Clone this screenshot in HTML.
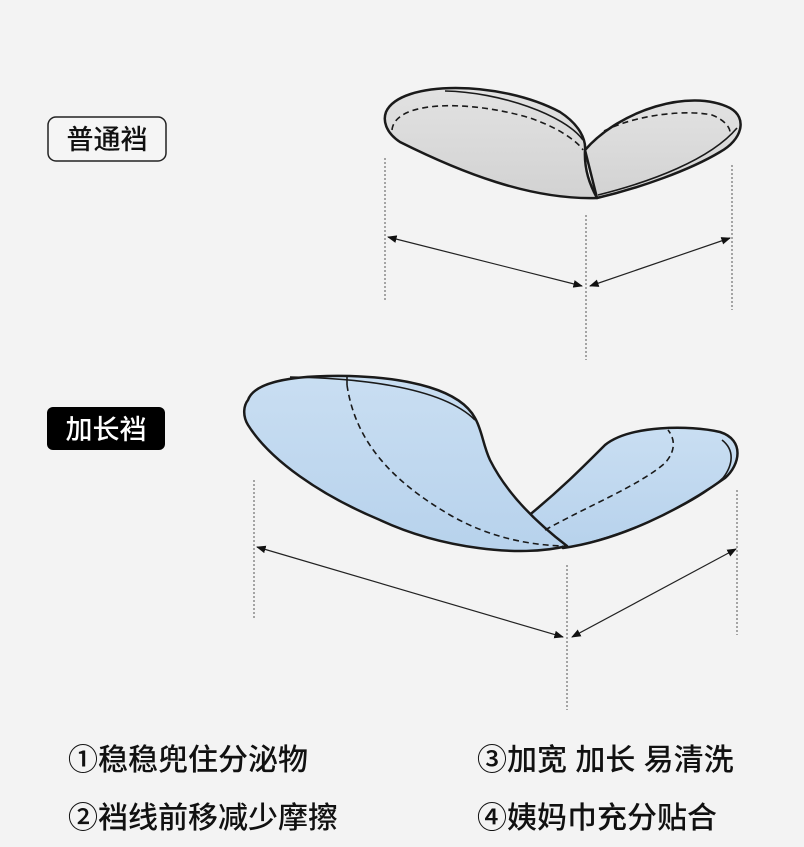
<!DOCTYPE html>
<html><head><meta charset="utf-8"><style>
html,body{margin:0;padding:0;background:#f3f3f3;}
svg{display:block}
text{font-family:"Liberation Sans","Noto Sans CJK SC",sans-serif;}
</style></head><body>
<svg width="804" height="847" viewBox="0 0 804 847" xmlns="http://www.w3.org/2000/svg">
<defs>
<marker id="a" viewBox="0 0 10 10" refX="9" refY="5" markerWidth="8" markerHeight="8" orient="auto-start-reverse"><path d="M0,1 L10,5 L0,9 z" fill="#111"/></marker>
<linearGradient id="g1" x1="0" y1="0" x2="0" y2="1"><stop offset="0" stop-color="#e2e2e2"/><stop offset="1" stop-color="#d2d2d2"/></linearGradient>
<linearGradient id="g2" x1="0" y1="0" x2="0" y2="1"><stop offset="0" stop-color="#c9def2"/><stop offset="1" stop-color="#b7d2ec"/></linearGradient>
</defs>
<rect width="804" height="847" fill="#f3f3f3"/>

<!-- labels -->
<rect x="48" y="117" width="118" height="44" rx="8" fill="#f5f5f5" stroke="#222" stroke-width="1.5"/>
<text x="107" y="149" font-size="27" font-weight="500" text-anchor="middle" fill="#111">普通裆</text>
<rect x="47" y="407" width="118" height="43" rx="6" fill="#000"/>
<text x="106" y="439" font-size="27" font-weight="500" text-anchor="middle" fill="#fff">加长裆</text>

<!-- top shape -->
<g stroke="#1a1a1a" fill="url(#g1)" stroke-linejoin="round">
<path d="M585,150 C620,110 690,88 730,108 C748,118 742,140 720,152 C690,170 640,188 597,198 Z" stroke-width="2.5"/>
<path d="M386,112 C400,80 500,80 560,112 C580,125 586,140 585,150 C584,170 590,185 597,198 C530,200 460,172 400,142 C385,132 383,120 386,112 Z" stroke-width="2.5"/>
<path d="M445,91 C500,92 565,115 583,140" fill="none" stroke-width="1.6"/>
<path d="M598,195 C650,182 710,160 737,128" fill="none" stroke-width="1.6"/>
<path d="M392,130 C395,100 470,100 530,118 C565,130 580,145 583,150" fill="none" stroke-width="1.6" stroke-dasharray="6,4"/>
<path d="M604,131 C640,113 690,110 712,115 C725,120 730,128 730,132" fill="none" stroke-width="1.6" stroke-dasharray="6,4"/>
</g>

<!-- top dimensions -->
<g stroke="#555" stroke-width="1" stroke-dasharray="2,2">
<line x1="385" y1="158" x2="385" y2="300"/>
<line x1="586" y1="215" x2="586" y2="360"/>
<line x1="732" y1="165" x2="732" y2="310"/>
</g>
<g stroke="#222" stroke-width="1.2" fill="none">
<line x1="388" y1="237" x2="582" y2="286" marker-start="url(#a)" marker-end="url(#a)"/>
<line x1="590" y1="286" x2="730" y2="238" marker-start="url(#a)" marker-end="url(#a)"/>
</g>

<!-- bottom shape -->
<g stroke="#1a1a1a" fill="url(#g2)" stroke-linejoin="round">
<path d="M527,517 C560,490 580,470 605,445 C630,425 690,425 720,432 C745,440 740,465 725,478 C680,510 620,540 563,548 Z" stroke-width="2.5"/>
<path d="M248,400 C255,380 300,375 350,376 C410,378 460,390 475,418 C482,430 483,445 490,460 C500,480 520,510 567,546 C520,558 440,548 380,520 C320,495 270,460 248,425 C242,415 244,405 248,400 Z" stroke-width="2.5"/>
<path d="M290,377 C350,378 440,385 475,420" fill="none" stroke-width="1.6"/>
<path d="M347,377 L347,385" fill="none" stroke-width="1.6"/>
<path d="M580,545 C640,530 700,500 723,478 C733,465 735,450 722,440" fill="none" stroke-width="1.6"/>
<path d="M347,385 C355,440 390,480 450,515 C490,538 530,545 563,546" fill="none" stroke-width="1.6" stroke-dasharray="6,4"/>
<path d="M545,530 C590,505 640,485 665,463 C675,452 676,440 668,430" fill="none" stroke-width="1.6" stroke-dasharray="6,4"/>
</g>

<!-- bottom dimensions -->
<g stroke="#555" stroke-width="1" stroke-dasharray="2,2">
<line x1="254" y1="480" x2="254" y2="620"/>
<line x1="567" y1="565" x2="567" y2="710"/>
<line x1="737" y1="490" x2="737" y2="635"/>
</g>
<g stroke="#222" stroke-width="1.2" fill="none">
<line x1="257" y1="547" x2="563" y2="637" marker-start="url(#a)" marker-end="url(#a)"/>
<line x1="572" y1="637" x2="736" y2="549" marker-start="url(#a)" marker-end="url(#a)"/>
</g>

<!-- captions -->
<g font-size="30" font-weight="500" fill="#111">
<text x="68" y="770">①稳稳兜住分泌物</text>
<text x="68" y="828">②裆线前移减少摩擦</text>
<text x="477" y="770">③加宽 加长 易清洗</text>
<text x="477" y="828">④姨妈巾充分贴合</text>
</g>
</svg>
</body></html>
